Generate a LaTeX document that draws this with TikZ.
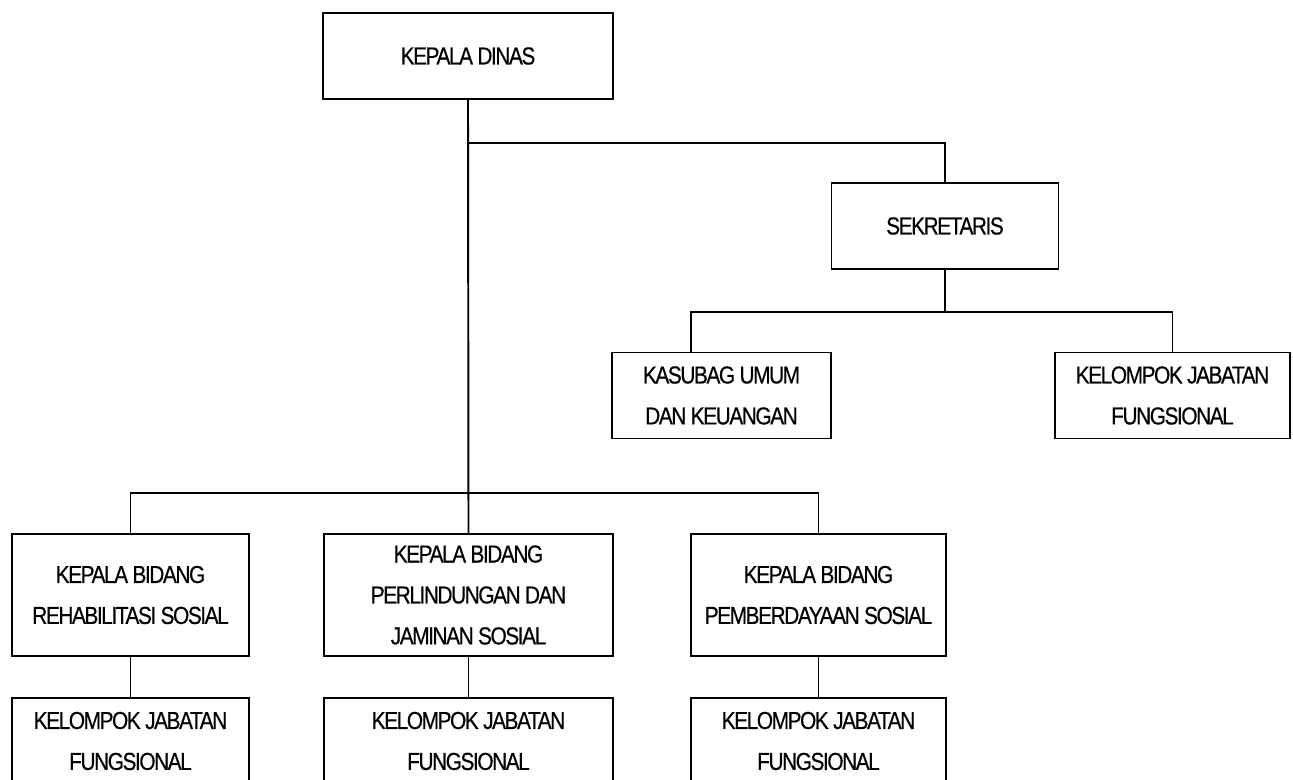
\documentclass[tikz,border=0pt]{standalone}
\usepackage{fontspec}
\setmainfont{Liberation Sans}[FakeStretch=0.85,LetterSpace=-6,FakeBold=0.4]

\tikzset{
    org box/.style={
        draw,line width=1.1pt,
        minimum height=1.72cm,inner sep=0pt,
        align=center,
        font=\fontsize{14}{23.3}\selectfont
    },
    tall box/.style={org box,minimum height=2.44cm},
    org line/.style={line width=1.1pt}
}

\begin{document}
\begin{tikzpicture}
        \useasboundingbox (0,0) rectangle (25.86,-15.6);
        \node[org box,minimum width=5.8cm] (dinas) at (9.36,-1.12) {KEPALA DINAS};
        \node[org box,minimum width=4.54cm] (sekretaris) at (18.9,-4.52) {SEKRETARIS};
        \node[org box,minimum width=4.38cm] (kasubag) at (14.43,-7.91) {KASUBAG UMUM\\DAN KEUANGAN};
        \node[org box,minimum width=4.7cm] (fungsek) at (23.45,-7.91) {KELOMPOK JABATAN\\FUNGSIONAL};
        \node[tall box,minimum width=4.74cm] (rehab) at (2.61,-11.9) {KEPALA BIDANG\\REHABILITASI SOSIAL};
        \node[tall box,minimum width=5.78cm] (perlindungan) at (9.37,-11.9) {KEPALA BIDANG\\PERLINDUNGAN DAN\\JAMINAN SOSIAL};
        \node[tall box,minimum width=5.1cm] (pemberdayaan) at (16.37,-11.9) {KEPALA BIDANG\\PEMBERDAYAAN SOSIAL};
        \foreach \name/\x/\w in {rehab/2.61/4.74,perlindungan/9.37/5.78,pemberdayaan/16.37/5.1}
            \node[org box,minimum width=\w cm] (f\name) at (\x,-14.82) {KELOMPOK JABATAN\\FUNGSIONAL};
        \coordinate (topbus) at (9.36,-2.86);
        \coordinate (sekbus) at (18.9,-6.24);
        \coordinate (bidbus) at (9.36,-9.86);
        \draw[org line] (dinas.south) -- (perlindungan.north);
        \draw[org line] (topbus) -| (sekretaris.north);
        \draw[org line] (sekretaris.south) -- (sekbus);
        \draw[org line] ([xshift=-0.61cm]kasubag.north) |- (sekbus) -| (fungsek.north);
        \draw[org line] (rehab.north) |- (bidbus) -| (pemberdayaan.north);
        \foreach \name in {rehab,perlindungan,pemberdayaan}
            \draw[org line] (\name.south) -- (f\name.north);
    \end{tikzpicture}
\end{document}
